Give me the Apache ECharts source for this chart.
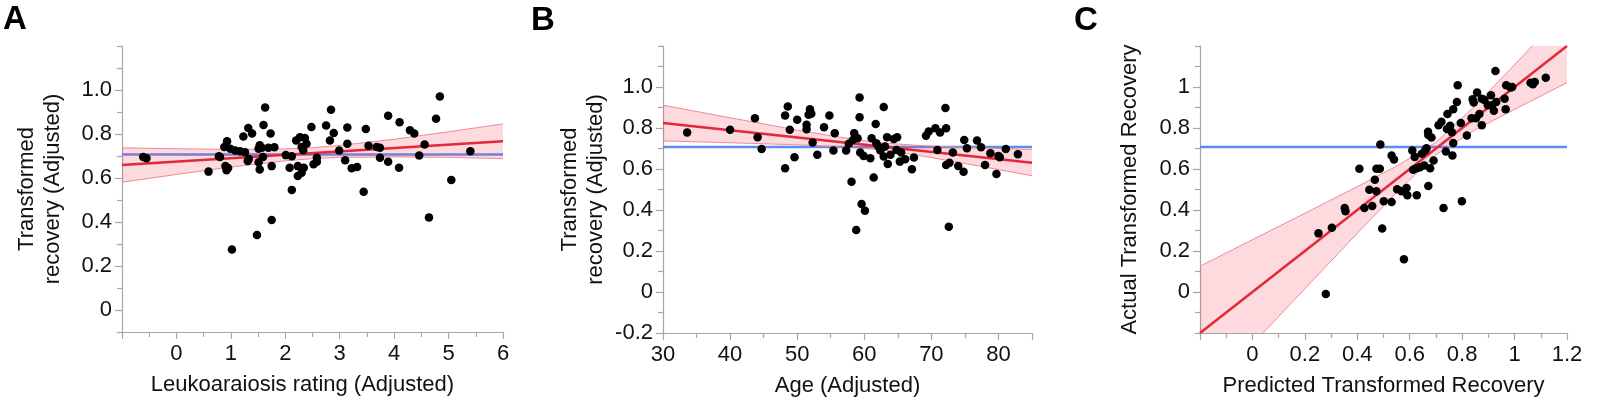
<!DOCTYPE html>
<html><head><meta charset="utf-8">
<script src="https://cdn.jsdelivr.net/npm/echarts@6/dist/echarts.min.js"></script>
<style>html,body{margin:0;padding:0;background:#fff}#c{width:1603px;height:402px}</style>
</head><body><div id="c"></div>
<script>
// ---------- Panel A: Leukoaraiosis ----------
const aPoints = [[-0.61,0.695],[-0.55,0.69],[0.59,0.629],[0.78,0.699],[0.80,0.695],[0.88,0.741],[0.93,0.767],[0.90,0.655],[0.95,0.645],[0.92,0.635],[0.99,0.733],[1.02,0.275],[1.08,0.725],[1.17,0.722],[1.23,0.789],[1.26,0.717],[1.32,0.827],[1.39,0.802],[1.31,0.677],[1.33,0.686],[1.48,0.341],[1.51,0.733],[1.53,0.749],[1.51,0.672],[1.53,0.639],[1.60,0.841],[1.63,0.920],[1.59,0.695],[1.57,0.737],[1.69,0.737],[1.73,0.802],[1.75,0.654],[1.75,0.409],[1.80,0.740],[2.01,0.704],[2.08,0.647],[2.12,0.699],[2.12,0.546],[2.20,0.771],[2.23,0.609],[2.23,0.654],[2.27,0.785],[2.30,0.741],[2.33,0.726],[2.30,0.624],[2.34,0.647],[2.36,0.782],[2.39,0.756],[2.48,0.832],[2.52,0.662],[2.58,0.692],[2.58,0.674],[2.75,0.839],[2.82,0.770],[2.84,0.910],[2.89,0.805],[2.99,0.725],[3.10,0.681],[3.14,0.756],[3.14,0.830],[3.22,0.644],[3.32,0.650],[3.44,0.537],[3.48,0.823],[3.53,0.747],[3.68,0.741],[3.74,0.737],[3.74,0.692],[3.89,0.674],[3.89,0.883],[4.10,0.853],[4.09,0.647],[4.29,0.817],[4.37,0.802],[4.46,0.702],[4.56,0.752],[4.64,0.421],[4.77,0.869],[4.84,0.970],[5.05,0.591],[5.40,0.722]];
const aFit = [[-1,0.659],[6,0.767]];
const aMean = [[-1,0.707],[6,0.707]];
const aBandX = [-1,0,1,2,2.5,3,4,5,6];
const aBandLow = [0.581,0.616,0.650,0.678,0.688,0.694,0.696,0.694,0.688];
const aBandHigh = [0.737,0.733,0.730,0.732,0.738,0.748,0.776,0.810,0.846];
const aXTicks = [-1,0,1,2,3,4,5,6];
const aXMinor = [-0.5,0.5,1.5,2.5,3.5,4.5,5.5];
const aXLabelVals = [0,1,2,3,4,5,6];
const aXLabels = ['0','1','2','3','4','5','6'];
const aYLabelVals = [0,0.2,0.4,0.6,0.8,1.0];
const aYLabels = ['0','0.2','0.4','0.6','0.8','1.0'];
const aYMinor = [-0.1,0.1,0.3,0.5,0.7,0.9,1.1,1.2];

// ---------- Panel B: Age ----------
const bPoints = [[33.6,0.778],[40.0,0.791],[43.7,0.848],[44.1,0.755],[44.7,0.697],[48.2,0.861],[48.6,0.905],[48.2,0.604],[48.9,0.791],[49.6,0.657],[50.0,0.840],[51.4,0.816],[51.4,0.794],[51.7,0.865],[51.9,0.892],[52.1,0.870],[52.3,0.729],[53.0,0.669],[54.0,0.804],[54.8,0.861],[55.4,0.690],[55.6,0.775],[57.3,0.690],[57.7,0.723],[58.1,0.538],[58.3,0.742],[58.5,0.775],[58.8,0.302],[59.0,0.750],[59.3,0.949],[59.3,0.852],[59.4,0.680],[59.6,0.429],[60.1,0.396],[59.9,0.664],[60.9,0.653],[61.1,0.750],[61.4,0.558],[61.7,0.819],[61.8,0.726],[62.1,0.710],[62.4,0.690],[62.9,0.902],[62.9,0.661],[63.1,0.710],[63.4,0.755],[63.5,0.625],[63.9,0.669],[64.4,0.746],[64.9,0.755],[64.8,0.693],[65.3,0.636],[65.5,0.680],[66.1,0.648],[67.1,0.599],[67.4,0.656],[69.2,0.762],[69.6,0.783],[70.6,0.799],[70.9,0.693],[71.3,0.778],[72.1,0.897],[72.2,0.799],[72.2,0.620],[72.7,0.631],[72.6,0.318],[73.2,0.680],[74.0,0.615],[74.8,0.587],[74.9,0.742],[75.3,0.701],[76.8,0.739],[77.4,0.706],[78.0,0.620],[78.8,0.677],[79.7,0.576],[80.0,0.664],[80.2,0.657],[81.1,0.697],[82.9,0.672]];
const bFit = [[30,0.824],[85,0.631]];
const bMean = [[30,0.707],[85,0.707]];
const bBandX = [30,40,50,56,62,68,75,85];
const bBandLow = [0.737,0.728,0.718,0.709,0.695,0.667,0.627,0.567];
const bBandHigh = [0.911,0.850,0.790,0.757,0.729,0.715,0.705,0.695];
const bXTicks = [30,40,50,60,70,80,85];
const bXMinor = [35,45,55,65,75];
const bXLabelVals = [30,40,50,60,70,80];
const bXLabels = ['30','40','50','60','70','80'];
const bYLabelVals = [-0.2,0,0.2,0.4,0.6,0.8,1.0];
const bYLabels = ['-0.2','0','0.2','0.4','0.6','0.8','1.0'];
const bYMinor = [-0.1,0.1,0.3,0.5,0.7,0.9,1.1,1.2];

// ---------- Panel C: Predicted vs actual ----------
const cPoints = [[0.252,0.286],[0.280,-0.010],[0.303,0.313],[0.352,0.410],[0.355,0.394],[0.408,0.601],[0.427,0.410],[0.446,0.499],[0.457,0.420],[0.467,0.548],[0.473,0.601],[0.473,0.491],[0.486,0.601],[0.488,0.719],[0.495,0.310],[0.501,0.443],[0.531,0.439],[0.531,0.666],[0.540,0.646],[0.552,0.501],[0.569,0.491],[0.578,0.160],[0.588,0.507],[0.591,0.472],[0.610,0.690],[0.613,0.596],[0.619,0.658],[0.627,0.472],[0.627,0.604],[0.639,0.609],[0.646,0.674],[0.655,0.617],[0.659,0.690],[0.664,0.701],[0.670,0.782],[0.671,0.766],[0.671,0.517],[0.678,0.604],[0.683,0.754],[0.691,0.641],[0.710,0.814],[0.721,0.830],[0.729,0.410],[0.738,0.685],[0.742,0.795],[0.744,0.868],[0.754,0.811],[0.761,0.779],[0.763,0.666],[0.766,0.727],[0.766,0.892],[0.780,0.927],[0.783,1.008],[0.795,0.824],[0.799,0.443],[0.818,0.763],[0.836,0.847],[0.840,0.940],[0.844,0.924],[0.853,0.847],[0.857,0.973],[0.866,0.868],[0.875,0.814],[0.875,0.943],[0.885,0.937],[0.898,0.911],[0.910,0.960],[0.914,0.911],[0.921,0.884],[0.927,1.078],[0.930,0.927],[0.962,0.943],[0.966,0.892],[0.968,1.008],[0.985,0.997],[0.991,1.000],[1.061,1.021],[1.070,1.013],[1.077,1.024],[1.119,1.045]];
const cFit = [[-0.2,-0.2],[1.2,1.2]];
const cMean = [[-0.2,0.707],[1.2,0.707]];
const cBandX = [-0.2,0,0.2,0.4,0.55,0.7,0.85,1.0,1.2];
const cBandLow = [-0.526,-0.255,0.016,0.286,0.486,0.670,0.791,0.891,1.021];
const cBandHigh = [0.126,0.255,0.384,0.514,0.614,0.730,0.909,1.109,1.379];
const cXTicks = [-0.2,0,0.2,0.4,0.6,0.8,1.0,1.2];
const cXMinor = [-0.1,0.1,0.3,0.5,0.7,0.9,1.1];
const cXLabelVals = [0,0.2,0.4,0.6,0.8,1.0,1.2];
const cXLabels = ['0','0.2','0.4','0.6','0.8','1','1.2'];
const cYLabelVals = [0,0.2,0.4,0.6,0.8,1.0];
const cYLabels = ['0','0.2','0.4','0.6','0.8','1'];
const cYMinor = [-0.2,-0.1,0.1,0.3,0.5,0.7,0.9,1.1,1.2];

const FONT = 'Liberation Sans, Arial, sans-serif';
const AXIS_COLOR = '#a6a6a6';
const TEXT = '#111';
const FS = 22;

function pick(vals, labels) {
  return function (v) {
    for (let i = 0; i < vals.length; i++) if (Math.abs(vals[i] - v) < 1e-9) return labels[i];
    return '';
  };
}

const panels = [
  {grid:{left:122, top:46, width:381, height:286},
   x:{min:-1,max:6,ticks:aXTicks,minor:aXMinor,lv:aXLabelVals,ll:aXLabels,name:'Leukoaraiosis rating (Adjusted)',gap:42,pad:[0,20,0,0]},
   y:{min:-0.1,max:1.2,ticks:aYLabelVals,minor:aYMinor,lv:aYLabelVals,ll:aYLabels,name:'Transformed\nrecovery (Adjusted)',gap:56},
   pts:aPoints, fit:aFit, mean:aMean, bx:aBandX, bl:aBandLow, bh:aBandHigh},
  {grid:{left:663, top:46, width:369, height:287},
   x:{min:30,max:85,ticks:bXTicks,minor:bXMinor,lv:bXLabelVals,ll:bXLabels,name:'Age (Adjusted)',gap:42,pad:[0,0,0,0]},
   y:{min:-0.2,max:1.2,ticks:bYLabelVals,minor:bYMinor,lv:bYLabelVals,ll:bYLabels,name:'Transformed\nrecovery (Adjusted)',gap:54},
   pts:bPoints, fit:bFit, mean:bMean, bx:bBandX, bl:bBandLow, bh:bBandHigh},
  {grid:{left:1200, top:46, width:367, height:290},
   x:{min:-0.2,max:1.2,ticks:cXTicks,minor:cXMinor,lv:cXLabelVals,ll:cXLabels,name:'Predicted Transformed Recovery',gap:42,pad:[0,0,0,0]},
   y:{min:-0.2,max:1.2,ticks:cYLabelVals,minor:cYMinor,lv:cYLabelVals,ll:cYLabels,name:'Actual Transformed Recovery',gap:57},
   pts:cPoints, fit:cFit, mean:cMean, bx:cBandX, bl:cBandLow, bh:cBandHigh}
];

const grids = [], xAxes = [], yAxes = [], series = [];
panels.forEach(function (p, g) {
  grids.push(p.grid);
  const xi = xAxes.length, yi = yAxes.length;
  xAxes.push({
    type:'value', gridIndex:g, min:p.x.min, max:p.x.max, position:'bottom',
    axisLine:{onZero:false, lineStyle:{color:AXIS_COLOR, width:1.2}},
    axisTick:{customValues:p.x.ticks, length:7, lineStyle:{color:AXIS_COLOR, width:1.2}},
    axisLabel:{customValues:p.x.lv, formatter:pick(p.x.lv, p.x.ll), margin:11, fontSize:FS, color:TEXT, fontFamily:FONT},
    splitLine:{show:false},
    name:p.x.name, nameLocation:'middle', nameGap:p.x.gap,
    nameTextStyle:{fontSize:FS, color:TEXT, fontFamily:FONT, padding:p.x.pad}
  });
  xAxes.push({
    type:'value', gridIndex:g, min:p.x.min, max:p.x.max, position:'bottom',
    axisLine:{show:false, onZero:false},
    axisTick:{customValues:p.x.minor, length:5, lineStyle:{color:AXIS_COLOR, width:1.2}},
    axisLabel:{show:false}, splitLine:{show:false}
  });
  yAxes.push({
    type:'value', gridIndex:g, min:p.y.min, max:p.y.max, position:'left',
    axisLine:{onZero:false, lineStyle:{color:AXIS_COLOR, width:1.2}},
    axisTick:{customValues:p.y.ticks, length:7, lineStyle:{color:AXIS_COLOR, width:1.2}},
    axisLabel:{customValues:p.y.lv, formatter:pick(p.y.lv, p.y.ll), margin:10, fontSize:FS, color:TEXT, fontFamily:FONT},
    splitLine:{show:false},
    name:p.y.name, nameLocation:'middle', nameGap:p.y.gap, nameRotate:90,
    nameTextStyle:{fontSize:FS, lineHeight:26, color:TEXT, fontFamily:FONT, align:'center'}
  });
  yAxes.push({
    type:'value', gridIndex:g, min:p.y.min, max:p.y.max, position:'left', offset:0,
    axisLine:{show:false, onZero:false},
    axisTick:{customValues:p.y.minor, length:5, lineStyle:{color:AXIS_COLOR, width:1.2}},
    axisLabel:{show:false}, splitLine:{show:false}
  });

  // mean line (blue)
  series.push({type:'line', xAxisIndex:xi, yAxisIndex:yi, data:p.mean, symbol:'none', silent:true,
    lineStyle:{color:'#5b8cef', width:2.5}, z:2});
  // confidence band
  const bandData = p.bx.map(function (x, i) { return [x, p.bl[i], p.bh[i]]; });
  series.push({type:'custom', xAxisIndex:xi, yAxisIndex:yi, clip:true, silent:true, z:3,
    data:[0],
    renderItem:function (params, api) {
      const pts = [];
      bandData.forEach(function (d) { pts.push(api.coord([d[0], d[2]])); });
      for (let i = bandData.length - 1; i >= 0; i--) pts.push(api.coord([bandData[i][0], bandData[i][1]]));
      return {type:'polygon', shape:{points:pts}, style:{fill:'rgba(238,70,90,0.2)'}};
    }
  });
  series.push({type:'line', xAxisIndex:xi, yAxisIndex:yi, data:p.bx.map(function (x, i) { return [x, p.bh[i]]; }),
    symbol:'none', silent:true, lineStyle:{color:'#f08a98', width:1}, z:4});
  series.push({type:'line', xAxisIndex:xi, yAxisIndex:yi, data:p.bx.map(function (x, i) { return [x, p.bl[i]]; }),
    symbol:'none', silent:true, lineStyle:{color:'#f08a98', width:1}, z:4});
  // fit line (red)
  series.push({type:'line', xAxisIndex:xi, yAxisIndex:yi, data:p.fit, symbol:'none', silent:true,
    lineStyle:{color:'#e3283c', width:2.5}, z:5});
  // points
  series.push({type:'scatter', xAxisIndex:xi, yAxisIndex:yi, data:p.pts, symbolSize:8.5,
    itemStyle:{color:'#000', opacity:1}, z:6});
});

const chart = echarts.init(document.getElementById('c'), null, {renderer:'canvas'});
chart.setOption({
  animation:false,
  backgroundColor:'#fff',
  grid:grids, xAxis:xAxes, yAxis:yAxes, series:series,
  graphic:[
    {type:'text', left:3, top:3, style:{text:'A', font:'bold 33px Liberation Sans, Arial, sans-serif', fill:'#000'}},
    {type:'text', left:531, top:4, style:{text:'B', font:'bold 33px Liberation Sans, Arial, sans-serif', fill:'#000'}},
    {type:'text', left:1074, top:4, style:{text:'C', font:'bold 33px Liberation Sans, Arial, sans-serif', fill:'#000'}}
  ]
});
</script></body></html>
